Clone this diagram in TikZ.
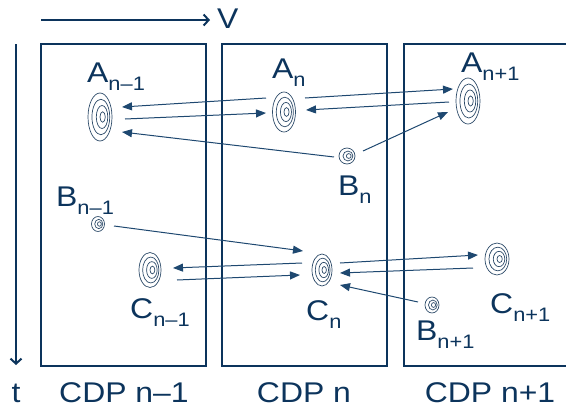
\documentclass[tikz,border=0pt]{standalone}
\usepackage{fontspec}
\setmainfont[FakeStretch=1.12]{Liberation Sans}
\usetikzlibrary{arrows.meta}

\definecolor{navy}{RGB}{12,52,92}
\definecolor{wire}{RGB}{30,72,112}
\definecolor{ring}{RGB}{45,75,105}

% letter with a lowered subscript
\newcommand\lbl[2]{#1\raisebox{-8pt}{\fontsize{19.5}{19.5}\selectfont #2}}

% concentric rings: name, x, y, rx, ry
\newcommand\rings[5]{%
  \coordinate (#1) at (#2,#3);
  \foreach \s/\d in {1/0, 0.74/0.07, 0.48/0.17, 0.22/0.22}
    \draw[ringline] ({#2+\d*#4},#3) ellipse [x radius={\s*#4pt}, y radius={\s*#5pt}];
}
\newcommand\smallrings[5]{%
  \coordinate (#1) at (#2,#3);
  \foreach \s/\d in {1/0, 0.62/0.12, 0.3/0.22}
    \draw[ringline] ({#2+\d*#4},#3) ellipse [x radius={\s*#4pt}, y radius={\s*#5pt}];
}

\begin{document}
\begin{tikzpicture}[x=1pt,y=-1pt,
  every node/.style={text=navy, inner sep=0pt},
  biglabel/.style={font=\fontsize{28.5}{28.5}\selectfont, anchor=base west},
  caption/.style={font=\fontsize{28.5}{28.5}\selectfont, anchor=base},
  frame/.style={draw=navy, line width=2.6pt},
  axis/.style={draw=navy, line width=2pt, -{Straight Barb[length=5pt,width=11pt]}},
  flow/.style={draw=wire, line width=1pt, -{Triangle[length=10pt,width=8pt]}},
  ringline/.style={draw=ring, line width=0.7pt}]

\useasboundingbox (0,0) rectangle (566,410);

% CDP frames
\draw[frame] (41,44) rectangle (206,366);
\draw[frame] (222,44) rectangle (387,366);
\draw[frame] (572,44) -- (404,44) -- (404,366) -- (572,366);

% axes
\coordinate (v0) at (41,20);
\coordinate (v1) at (210,20);
\draw[axis] (v0) -- (v1);
\node[biglabel] (V) at (217,28) {V};
\coordinate (t0) at (16,44);
\coordinate (t1) at (16,365);
\draw[axis] (t0) -- (t1);
\node[caption] (t) at (16,402) {t};

% events
\rings{Am}{100}{117}{12}{24}
\rings{An}{284}{112}{11.5}{20}
\rings{Ap}{468}{101}{12}{23}
\smallrings{Bm}{98}{224}{6.5}{7.5}
\smallrings{Bn}{347}{156}{8}{8}
\smallrings{Bp}{432}{305}{7}{8}
\rings{Cm}{150}{270}{11}{17.5}
\rings{Cn}{322}{270}{10}{16}
\rings{Cp}{497}{259}{12}{16}

% labels
\node[biglabel] (LAm) at (87,82) {\lbl{A}{n\textendash1}};
\node[biglabel] (LAn) at (272,78) {\lbl{A}{n}};
\node[biglabel] (LAp) at (461,72) {\lbl{A}{n+1}};
\node[biglabel] (LBm) at (56,206) {\lbl{B}{n\textendash1}};
\node[biglabel] (LBn) at (338,195) {\lbl{B}{n}};
\node[biglabel] (LBp) at (416,340) {\lbl{B}{n+1}};
\node[biglabel] (LCm) at (130,318) {\lbl{C}{n\textendash1}};
\node[biglabel] (LCn) at (306,320) {\lbl{C}{n}};
\node[biglabel] (LCp) at (490,313) {\lbl{C}{n+1}};

\node[caption] (cdp1) at (124,402) {CDP n\textendash1};
\node[caption] (cdp2) at (304,402) {CDP n};
\node[caption] (cdp3) at (490,402) {CDP n+1};

% connector ends
\coordinate (An-w1) at (266,98);
\coordinate (An-w2) at (266,113);
\coordinate (An-e1) at (305,98);
\coordinate (An-e2) at (306,110);
\coordinate (Am-e1) at (122,107);
\coordinate (Am-e2) at (125,119);
\coordinate (Am-e3) at (122,132);
\coordinate (Ap-w1) at (453,89);
\coordinate (Ap-w2) at (449,102);
\coordinate (Ap-w3) at (448,112);
\coordinate (Bn-w) at (334,157);
\coordinate (Bn-e) at (363,151);
\coordinate (Bm-e) at (114,226);
\coordinate (Bp-w) at (418,302);
\coordinate (Cm-e1) at (173,268);
\coordinate (Cm-e2) at (177,280);
\coordinate (Cn-w1) at (303,251);
\coordinate (Cn-w2) at (302,263);
\coordinate (Cn-w3) at (300,275);
\coordinate (Cn-e1) at (340,263);
\coordinate (Cn-e2) at (340,273);
\coordinate (Cn-e3) at (340,285);
\coordinate (Cp-w1) at (478,255);
\coordinate (Cp-w2) at (473,268);

% signal paths
\draw[flow] (An-w1) -- (Am-e1);
\draw[flow] (Am-e2) -- (An-w2);
\draw[flow] (Bn-w) -- (Am-e3);
\draw[flow] (An-e1) -- (Ap-w1);
\draw[flow] (Ap-w2) -- (An-e2);
\draw[flow] (Bn-e) -- (Ap-w3);
\draw[flow] (Bm-e) -- (Cn-w1);
\draw[flow] (Cn-w2) -- (Cm-e1);
\draw[flow] (Cm-e2) -- (Cn-w3);
\draw[flow] (Cn-e1) -- (Cp-w1);
\draw[flow] (Cp-w2) -- (Cn-e2);
\draw[flow] (Bp-w) -- (Cn-e3);
\end{tikzpicture}
\end{document}
